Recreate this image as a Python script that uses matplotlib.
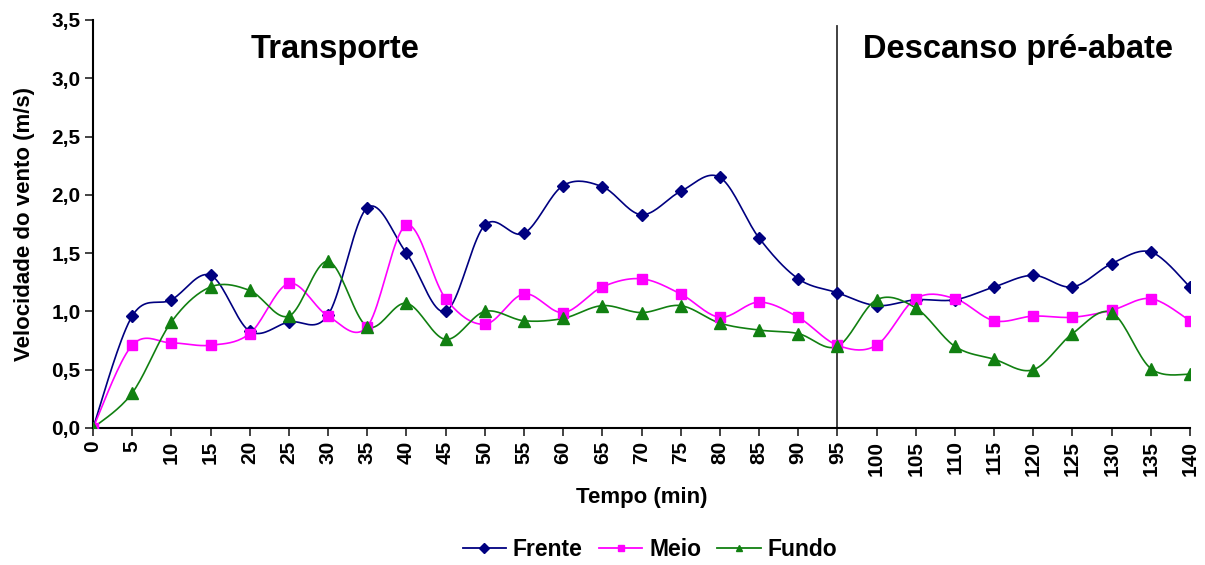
import matplotlib
matplotlib.use("Agg")
import matplotlib.pyplot as plt
import numpy as np

plt.rcParams['font.family'] = ['Liberation Sans', 'DejaVu Sans']

# tempo (min)
tempo = list(range(0, 145, 5))

frente = [0.0, 0.96, 1.10, 1.31, 0.83, 0.91, 0.97, 1.89, 1.50, 1.00,
          1.74, 1.67, 2.08, 2.07, 1.83, 2.03, 2.15, 1.63, 1.28, 1.16,
          1.05, 1.10, 1.10, 1.21, 1.31, 1.21, 1.41, 1.51, 1.21]
meio = [0.0, 0.71, 0.73, 0.71, 0.81, 1.24, 0.96, 0.87, 1.74, 1.11,
        0.89, 1.15, 0.99, 1.21, 1.28, 1.15, 0.95, 1.08, 0.95, 0.71,
        0.71, 1.11, 1.11, 0.92, 0.96, 0.95, 1.01, 1.11, 0.92]
fundo = [0.0, 0.30, 0.91, 1.21, 1.18, 0.96, 1.43, 0.87, 1.07, 0.76,
         1.00, 0.92, 0.94, 1.05, 0.99, 1.05, 0.90, 0.84, 0.81, 0.70,
         1.10, 1.03, 0.70, 0.59, 0.50, 0.81, 0.99, 0.51, 0.46]


def smooth(x, y, n=20, sx=39.2 / 5, sy=116.6):
    # catmull-rom in (roughly) pixel space, like excel smoothed lines
    P = np.column_stack([np.asarray(x, float) * sx, np.asarray(y, float) * sy])
    P = np.vstack([P[0], P, P[-1]])
    out = []
    t = np.linspace(0, 1, n, endpoint=False)[:, None]
    for i in range(1, len(P) - 2):
        p0, p1, p2, p3 = P[i - 1], P[i], P[i + 1], P[i + 2]
        seg = 0.5 * ((2 * p1) + (-p0 + p2) * t
                     + (2 * p0 - 5 * p1 + 4 * p2 - p3) * t ** 2
                     + (-p0 + 3 * p1 - 3 * p2 + p3) * t ** 3)
        out.append(seg)
    out.append(P[-2][None, :])
    out = np.vstack(out)
    return out[:, 0] / sx, out[:, 1] / sy


fig = plt.figure(figsize=(12.05, 5.65), dpi=100)
ax = fig.add_axes([93 / 1205, 1 - 428 / 565, (1190 - 93) / 1205, (428 - 20) / 565])

series = [(frente, 'Frente', '#000080', 'D', 6),
          (meio, 'Meio', '#FF00FF', 's', 7),
          (fundo, 'Fundo', '#118011', '^', 8)]
for vals, name, col, mk, ms in series:
    sx_, sy_ = smooth(tempo, vals)
    ax.plot(sx_, sy_, color=col, lw=1.2, zorder=2)
    ax.plot(tempo, vals, ls='none', marker=mk, ms=ms, color=col, zorder=3)
    ax.plot([], [], color=col, lw=1.3, marker=mk, ms=5, label=name)

ax.axvline(95, ymin=0, ymax=0.985, color='#333333', lw=1.3)

ax.set_xlim(0, 140)
ax.set_ylim(0, 3.5)
ax.set_xticks(tempo)
ax.set_xticklabels([str(t) for t in tempo], rotation=90, fontweight='bold', fontsize=15)
yt = np.arange(0, 3.51, 0.5)
ax.set_yticks(yt)
ax.set_yticklabels([f"{v:.1f}".replace('.', ',') for v in yt], fontweight='bold', fontsize=15)
ax.tick_params(direction='out', length=6, width=1.2, color='#222222', pad=3)
for s in ['top', 'right']:
    ax.spines[s].set_visible(False)
for s in ['left', 'bottom']:
    ax.spines[s].set_linewidth(1.5)
    ax.spines[s].set_clip_on(False)

ax.set_xlabel('Tempo (min)', fontweight='bold', fontsize=16, labelpad=8)
ax.set_ylabel('Velocidade do vento (m/s)', fontweight='bold', fontsize=16, labelpad=12)

ax.text(0.221, 0.928, 'Transporte', transform=ax.transAxes, ha='center', va='center',
        fontsize=23.5, fontweight='bold')
ax.text(0.843, 0.928, 'Descanso pré-abate', transform=ax.transAxes, ha='center', va='center',
        fontsize=23.5, fontweight='bold')

fig.legend(loc='center', bbox_to_anchor=(650 / 1205, 1 - 550 / 565), ncol=3, frameon=False,
           prop={'weight': 'bold', 'size': 16.5}, handlelength=1.9, columnspacing=0.7,
           handletextpad=0.3)

fig.savefig('out.png', dpi=100)
